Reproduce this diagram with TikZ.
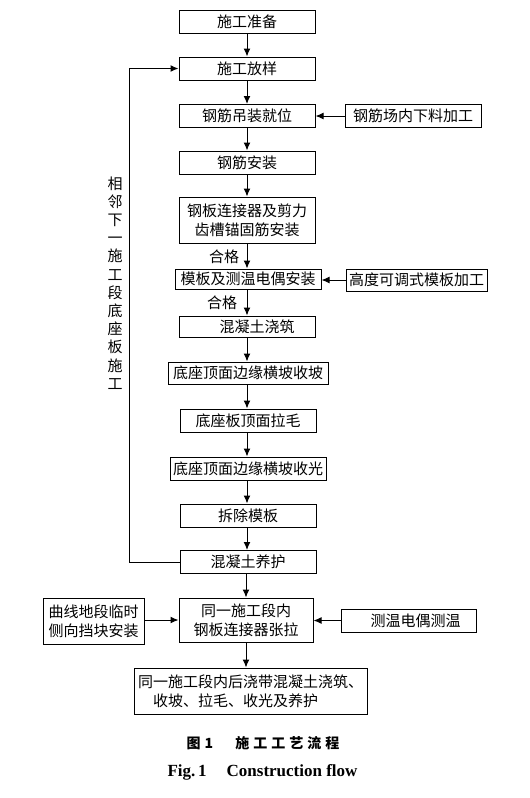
\documentclass[tikz,border=0pt]{standalone}
\usepackage{fontspec}
\setmainfont{Liberation Serif}
\newfontfamily\cjk{Noto Sans CJK SC}
\usetikzlibrary{arrows.meta}

\begin{document}
\begin{tikzpicture}[x=0.5pt, y=-0.5pt,
  box/.style={draw, line width=0.5pt, inner sep=1pt, minimum width=68pt, minimum height=11.5pt, align=center, font=\cjk\fontsize{7.5pt}{9.5pt}\selectfont},
  lbl/.style={inner sep=0pt, font=\cjk\fontsize{7.5pt}{9.1pt}\selectfont, align=center},
  arr/.style={-{Latex[length=4pt,width=3.4pt]}, line width=0.5pt}]
\useasboundingbox (0,0) rectangle (530,798);
\node[box] (1) at (247,21.5) {施工准备};
\node[box] (2) at (247,68.5) {施工放样};
\node[box] (3) at (247,116) {钢筋吊装就位};
\node[box] (4) at (247,162.5) {钢筋安装};
\node[box, minimum height=23pt] (5) at (247,220) {钢板连接器及剪力\\齿槽锚固筋安装};
\node[box, minimum width=73pt, minimum height=10pt] (6) at (248,279) {模板及测温电偶安装};
\node[box, minimum height=10.5pt] (7) at (247,326.5) {\hspace*{10pt}混凝土浇筑};
\node[box, minimum width=80pt, minimum height=11pt] (8) at (248,373) {底座顶面边缘横坡收坡};
\node[box] (9) at (248,420.5) {底座板顶面拉毛};
\node[box, minimum width=78pt] (10) at (248,468.5) {底座顶面边缘横坡收光};
\node[box] (11) at (248,515.5) {拆除模板};
\node[box] (12) at (248,562) {混凝土养护};
\node[box, minimum width=67pt, minimum height=22pt] (13) at (246,620) {同一施工段内\\钢板连接器张拉};
\node[box, minimum width=116.5pt, minimum height=23pt, align=left] (14) at (250.5,691) {同一施工段内后浇带混凝土浇筑、\\\hspace*{7.5pt}收坡、拉毛、收光及养护};
% side boxes
\node[box, minimum width=50.5pt, minimum height=23pt] (15) at (93.5,621) {曲线地段临时\\侧向挡块安装};
\node[box] (16) at (413,116) {钢筋场内下料加工};
\node[box, minimum width=70.5pt, minimum height=11pt] (17) at (416.5,280) {高度可调式模板加工};
\node[box, minimum width=67.5pt] (18) at (408.5,620.5) {\hspace*{7pt}测温电偶测温};
\node[lbl] (q1) at (224,257) {合格};
\node[lbl] (q2) at (222,303) {合格};
\node[lbl] (v) at (115,283) {相\\邻\\下\\一\\施\\工\\段\\底\\座\\板\\施\\工};
\coordinate (c) at (129,68.5);
\draw (1.south) to (1.south |- 2.north) [arr];
\draw (2.south) to (2.south |- 3.north) [arr];
\draw (3.south) to (3.south |- 4.north) [arr];
\draw (4.south) to (4.south |- 5.north) [arr];
\draw (5.south) to (5.south |- 6.north) [arr];
\draw (6.south -| 5.south) to (5.south |- 7.north) [arr];
\draw (7.south) to (7.south |- 8.north) [arr];
\draw (8.south -| 7.south) to (7.south |- 9.north) [arr];
\draw (9.south -| 7.south) to (7.south |- 10.north) [arr];
\draw (10.south -| 7.south) to (7.south |- 11.north) [arr];
\draw (11.south -| 7.south) to (7.south |- 12.north) [arr];
\draw (12.south -| 13.north) to (13.north) [arr];
\draw (13.south) to (13.south |- 14.north) [arr];
\draw (16.west) to (16.west -| 3.east) [arr];
\draw (17.west) to (17.west -| 6.east) [arr];
\draw (15.east |- 13.west) to (13.west) [arr];
\draw (18.west) to (18.west -| 13.east) [arr];
\draw (12.west) -| (c) to (2.west) [arr];
\node[font=\cjk\bfseries\fontsize{7pt}{8pt}\selectfont] (t1) at (263,743) {图\hspace{2pt}1\hspace{11pt}施\hspace{2pt}工\hspace{2pt}工\hspace{2pt}艺\hspace{2pt}流\hspace{2pt}程};
\node[font=\bfseries\fontsize{8.5pt}{10pt}\selectfont] (t2) at (262.5,772) {Fig.\,1\hspace{10pt}Construction flow};
\end{tikzpicture}
\end{document}
